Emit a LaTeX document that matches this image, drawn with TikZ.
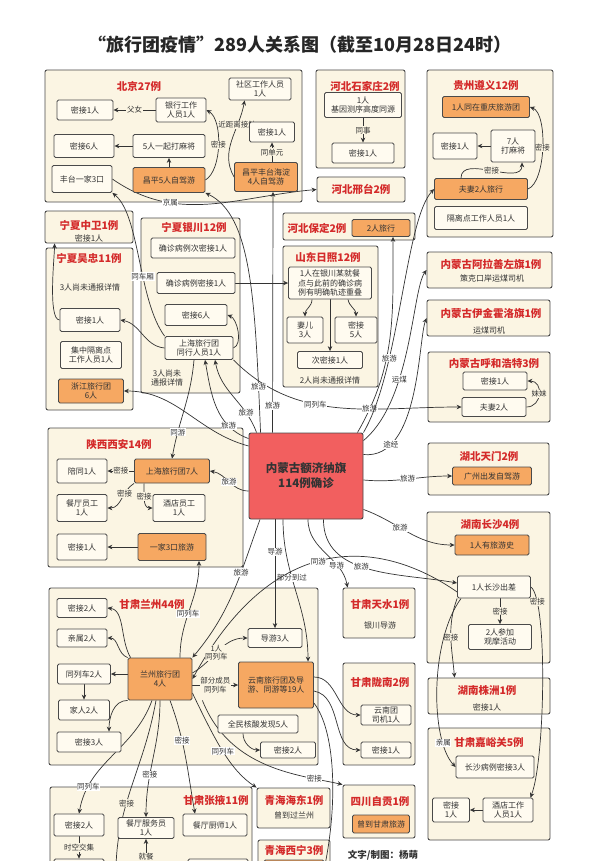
\documentclass[tikz,border=0pt]{standalone}
\usepackage{fontspec}
\setmainfont{Noto Sans CJK SC}
\usepackage{tikz}
\usetikzlibrary{arrows.meta}
\pgfdeclarelayer{back}
\pgfdeclarelayer{mid}
\pgfsetlayers{back,mid,main}
\definecolor{cream}{HTML}{FBF5E3}
\definecolor{boxfill}{HTML}{FFFBF0}
\definecolor{lineg}{HTML}{4A4A4A}
\definecolor{orng}{HTML}{F6A862}
\definecolor{hot}{HTML}{F25F5F}
\definecolor{ttlred}{HTML}{D42A2A}
\definecolor{ink}{HTML}{333333}

\begin{document}
\begin{tikzpicture}[x=1pt, y=-1pt,
    >={Stealth[length=5pt,width=4.5pt]},
    sz/.style 2 args={minimum width=#1pt, minimum height=#2pt},
    panel/.style={draw=lineg, fill=cream, line width=0.9pt, rounded corners=2pt},
    box/.style={draw=lineg, fill=boxfill, line width=0.8pt, rounded corners=1.5pt,
                align=center, inner sep=1pt, text=ink,
                font=\fontsize{8}{9.6}\selectfont},
    obox/.style={box, fill=orng},
    ttl/.style={font=\fontsize{10.5}{12}\selectfont\bfseries, text=ttlred},
    txt/.style={font=\fontsize{8}{9.6}\selectfont, text=ink, align=center},
    lbl/.style={font=\fontsize{7.5}{8.5}\selectfont, text=ink, fill=white,
                inner sep=0.6pt, align=center},
    lblc/.style={lbl, fill=cream},
    link/.style={->, draw=ink, line width=0.7pt}
]
\useasboundingbox (0,0) rectangle (600,861);
\clip (0,0) rectangle (600,861);

\begin{pgfonlayer}{back}
\clip (0,0) rectangle (600,861);
\fill[white] (0,0) rectangle (600,861);
\node[panel, sz={257}{132}] (bjp) at (173.5,136) {};
\node[panel, sz={89}{98}] (sjzp) at (360.5,119) {};
\node[panel, sz={88}{25}, ttl] (xt) at (361,189.5) {河北邢台2例};
\node[panel, sz={126}{167}] (zyp) at (490,153.5) {};
\node[panel, sz={88}{32}] (zwp) at (89,227) {};
\node[panel, sz={87}{162}] (wzp) at (89.5,329) {};
\node[panel, sz={99}{175}] (ycp) at (190.5,305.5) {};
\node[panel, sz={132}{27}] (bdp) at (349,226.5) {};
\node[panel, sz={95}{141}] (rzp) at (330.5,316.5) {};
\node[panel, sz={125}{36}] (alsp) at (489.5,270) {};
\node[panel, sz={123}{36}] (yjp) at (488.5,318) {};
\node[panel, sz={122}{70}] (hhp) at (489,387) {};
\node[panel, sz={121}{52}] (tmp) at (488.5,469) {};
\node[panel, sz={123}{151}] (csp) at (488.5,587.5) {};
\node[panel, sz={122}{36}] (zzp) at (489,696) {};
\node[panel, sz={122}{112}] (jygp) at (489,784) {};
\node[panel, sz={195}{139}] (xap) at (145.5,497.5) {};
\node[panel, sz={269}{177}] (lzp) at (183.5,676.5) {};
\node[panel, sz={72}{50}] (tsp) at (379,613) {};
\node[panel, sz={72}{102}] (lnp) at (379,714) {};
\node[panel, sz={72}{53}] (zgp) at (379,811.5) {};
\node[panel, sz={73}{40}] (hdp) at (293.5,808) {};
\node[panel, sz={72}{60}] (xnp) at (294,870) {};
\node[panel, sz={202}{113}] (zyep) at (151,843.5) {};
\end{pgfonlayer}

\node[font=\fontsize{18}{20}\selectfont\bfseries, text=black!85] (head) at (300,45)
    {“旅行团疫情”289人关系图（截至10月28日24时）};

\node[ttl] (bjt) at (139,86) {北京27例};
\node[box, sz={56}{20}] (bj1) at (85,110) {密接1人};
\node[box, sz={50}{24}] (bj2) at (181,110) {银行工作\\人员1人};
\node[box, sz={60}{23}] (bj3) at (84,146) {密接6人};
\node[box, sz={72}{23}] (bj4) at (169,146) {5人一起打麻将};
\node[box, sz={60}{27}] (bj5) at (82,179) {丰台一家3口};
\node[obox, sz={72}{25}] (bj6) at (169,180) {昌平5人自驾游};
\node[box, sz={62}{22}] (bj7) at (260,89) {社区工作人员\\1人};
\node[box, sz={45}{20}] (bj8) at (272,132) {密接1人};
\node[obox, sz={63}{29}] (bj9) at (266,177) {昌平丰台海淀\\4人自驾游};

\node[ttl] (sjt) at (365,86) {河北石家庄2例};
\node[box, sz={77}{25}] (sj1) at (363,105) {1人\\基因测序高度同源};
\node[box, sz={62}{20}] (sj2) at (363,153) {密接1人};

\node[ttl] (zyt) at (486,86) {贵州遵义12例};
\node[obox, sz={87}{21}] (zy1) at (486,107) {1人同在重庆旅游团};
\node[box, sz={44}{26}] (zy2) at (455,146) {密接1人};
\node[box, sz={44}{32}] (zy3) at (513,146) {7人\\打麻将};
\node[obox, sz={93}{21}] (zy4) at (481,189) {夫妻2人旅行};
\node[box, sz={93}{23}] (zy5) at (481,218) {隔离点工作人员1人};

\node[ttl] (zwt) at (89,225) {宁夏中卫1例};
\node[txt] (zwx) at (89,238) {密接1人};
\node[ttl] (wzt) at (89,258) {宁夏吴忠11例};
\node[txt] (wzx) at (90,287) {3人尚未通报详情};
\node[box, sz={60}{23}] (wz1) at (90,320) {密接1人};
\node[box, sz={61}{27}] (wz2) at (91,355) {集中隔离点\\工作人员1人};
\node[obox, sz={65}{24}] (wz3) at (91,391) {浙江旅行团\\6人};

\node[ttl] (yct) at (194,228) {宁夏银川12例};
\node[box, sz={84}{20}] (yc1) at (193,248) {确诊病例次密接1人};
\node[box, sz={78}{21}] (yc2) at (196,283) {确诊病例密接1人};
\node[box, sz={62}{21}] (yc3) at (196,315) {密接6人};
\node[box, sz={68}{23}] (yc4) at (199,348) {上海旅行团\\同行人员1人};
\node[txt] (ycx) at (167,378) {3人尚未\\通报详情};

\node[ttl] (bdt) at (317,228) {河北保定2例};
\node[obox, sz={58}{17}] (bd1) at (381,228) {2人旅行};

\node[ttl] (rzt) at (328,257) {山东日照12例};
\node[box, sz={83}{32}] (rz1) at (330,283) {1人在银川某就餐\\点与此前的确诊病\\例有明确轨迹重叠};
\node[box, sz={36}{26}] (rz2) at (305,330) {妻儿\\3人};
\node[box, sz={42}{26}] (rz3) at (356,330) {密接\\5人};
\node[box, sz={65}{17}] (rz4) at (330,360) {次密接1人};
\node[txt] (rzx) at (330,380) {2人尚未通报详情};

\node[ttl] (alst) at (491,264) {内蒙古阿拉善左旗1例};
\node[txt] (alsx) at (492,278) {策克口岸运煤司机};
\node[ttl] (yjt) at (491,313) {内蒙古伊金霍洛旗1例};
\node[txt] (yjx) at (489,330) {运煤司机};
\node[ttl] (hht) at (494,364) {内蒙古呼和浩特3例};
\node[box, sz={64}{18}] (hh1) at (495,381) {密接1人};
\node[box, sz={64}{19}] (hh2) at (494,407) {夫妻2人};

\node[ttl] (tmt) at (489,456) {湖北天门2例};
\node[obox, sz={79}{18}] (tm1) at (492,476) {广州出发自驾游};

\node[ttl] (cst) at (490,525) {湖南长沙4例};
\node[obox, sz={74}{20}] (cs1) at (492,545) {1人有旅游史};
\node[box, sz={73}{22}] (cs2) at (494,587) {1人长沙出差};
\node[box, sz={63}{25}] (cs3) at (500,637) {2人参加\\观摩活动};

\node[ttl] (zzt) at (487,691) {湖南株洲1例};
\node[txt] (zzx) at (487,707) {密接1人};

\node[ttl] (jyt) at (489,743) {甘肃嘉峪关5例};
\node[box, sz={78}{22}] (jy1) at (495,767) {长沙病例密接3人};
\node[box, sz={37}{24}] (jy2) at (451,810) {密接\\1人};
\node[box, sz={50}{24}] (jy3) at (508,810) {酒店工作\\人员1人};

\node[draw=lineg, fill=hot, line width=0.9pt, rounded corners=2pt, sz={114}{86},
      align=center, text=ink, font=\fontsize{11.5}{15}\selectfont\bfseries]
      (ctr) at (306,476) {内蒙古额济纳旗\\114例确诊};

\node[ttl] (xat) at (119,445) {陕西西安14例};
\node[box, sz={50}{24}] (xa1) at (82,471) {陪同1人};
\node[obox, sz={75}{24}] (xa2) at (172,471) {上海旅行团7人};
\node[box, sz={50}{27}] (xa3) at (82,508) {餐厅员工\\1人};
\node[box, sz={52}{27}] (xa4) at (179,508) {酒店员工\\1人};
\node[box, sz={50}{26}] (xa5) at (82,547) {密接1人};
\node[obox, sz={68}{27}] (xa6) at (172,547) {一家3口旅游};

\node[ttl] (lzt) at (152,605) {甘肃兰州44例};
\node[box, sz={50}{19}] (lz1) at (82,608) {密接2人};
\node[box, sz={50}{18}] (lz2) at (82,638) {亲属2人};
\node[box, sz={53}{20}] (lz3) at (84,674) {同列车2人};
\node[box, sz={51}{20}] (lz4) at (84,710) {家人2人};
\node[box, sz={64}{20}] (lz5) at (89,742) {密接3人};
\node[obox, sz={64}{42}] (lz6) at (160,679) {兰州旅行团\\4人};
\node[box, sz={54}{19}] (lz7) at (275,638) {导游3人};
\node[obox, sz={75}{46}] (lz8) at (276,685) {云南旅行团及导\\游、同游等19人};
\node[box, sz={80}{18}] (lz9) at (258,724) {全民核酸发现5人};
\node[box, sz={55}{16}] (lz10) at (288,750) {密接2人};

\node[ttl] (tst) at (380,605) {甘肃天水1例};
\node[txt] (tsx) at (380,625) {银川导游};
\node[ttl] (lnt) at (380,682) {甘肃陇南2例};
\node[box, sz={50}{20}] (ln1) at (386,715) {云南团\\司机1人};
\node[box, sz={50}{16}] (ln2) at (386,750) {密接1人};
\node[ttl] (zgt) at (380,802) {四川自贡1例};
\node[obox, sz={57}{18}] (zg1) at (381,824) {曾到甘肃旅游};
\node[ttl] (hdt) at (294,800) {青海海东1例};
\node[txt] (hdx) at (294,815) {曾到过兰州};
\node[ttl] (xnt) at (294,850) {青海西宁3例};
\node[obox, sz={60}{16}] (xn1) at (294,868) {};

\node[ttl] (zyet) at (216,800) {甘肃张掖11例};
\node[box, sz={50}{22}] (zye1) at (79,825) {密接2人};
\node[box, sz={56}{21}] (zye2) at (146,828) {餐厅服务员\\1人};
\node[box, sz={64}{22}] (zye3) at (215,825) {餐厅厨师1人};
\node[box, sz={50}{22}] (zye4) at (79,870) {};
\node[box, sz={60}{22}] (zye5) at (218,870) {};
\coordinate (zyeb) at (116,875);
\coordinate (zyec) at (146,875);

\node[font=\fontsize{9.5}{11}\selectfont\bfseries, text=ink] (credit) at (383,855) {文字/制图：杨萌};

\begin{pgfonlayer}{mid}
\clip (0,0) rectangle (600,861);
\draw[link] (bj2) -- node[lblc]{父女} (bj1);
\draw[link] (bj4) -- (bj3);
\draw[link] (bj6) -- (bj4);
\draw[link] ([xshift=6pt]bj9.north) -- node[lblc]{同单元} (bj8.south);
\draw[link] (bj9.west) to[out=120,in=-100] node[lblc,pos=0.7]{近距离接触} ([xshift=16pt]bj7.south west);
\draw[link] (bj6.east) to[out=30,in=-30,looseness=0.7] node[lblc]{密接} (bj2.east);
\draw[link] (bj5.east) to[out=-35,in=185] node[lbl,pos=0.3]{京属} (xt.west);
\draw[link] (sj1) -- node[lblc]{同事} (sj2);
\draw[link] (zy3) -- (zy2);
\draw[link] (zy4.east) to[out=20,in=-20,looseness=0.6] node[lblc]{密接} (zy1.east);
\draw[link] ([xshift=-20pt]zy4.north) to[out=90,in=-90] node[lblc]{密接} ([xshift=9pt]zy3.south);
\draw[link] (wz1.west) to[out=180,in=-90,looseness=0.4] ([xshift=10pt]zwp.south west);
\draw[link] (yc4.west) to[out=175,in=-10] (wz1.east);
\draw[link] (yc4.east) to[out=20,in=-20,looseness=0.8] (yc3.east);
\draw[link] (yc2) -- (rz1);
\draw[link] (yc4.north west) .. controls (138,300) and (140,215) .. node[lbl,pos=0.4]{同车厢} (bj5.south east);
\draw[link] ([xshift=-5pt]yc4.south) to[out=-95,in=80] node[lbl,pos=0.75]{同游} (xa2.north);
\draw[link] (yc4.south east) to[out=-45,in=180] node[lbl,pos=0.4]{同列车} (hh2.west);
\draw[link] ([xshift=-18pt]rz1.south) to[out=-90,in=90] (rz2.north);
\draw[link] ([xshift=18pt]rz1.south) to[out=-80,in=90] (rz3.north);
\draw[link] (rz1) -- (rz4);
\draw[link] (hh2.east) to[out=0,in=0,looseness=1.6] node[lblc]{妹妹} (hh1.east);
\draw[link] ([xshift=6pt]cs2.south) -- node[lblc]{密接} (cs3.north);
\draw[link] (cs2.south west) to[out=-110,in=95] node[lblc,pos=0.5]{密接} ([xshift=27pt]zzp.north west);
\draw[link] (cs2.east) .. controls (548,600) and (545,760) .. node[lblc,pos=0.15]{密接} ([xshift=-3pt]jy3.north east);
\draw[link] ([xshift=4pt]cs2.south west) .. controls (430,640) and (430,740) .. node[lbl,pos=0.8]{亲属} (jy1.west);
\draw[link] (jy3) -- (jy2);
\draw[link] (xa2.west) -- node[lblc]{密接} (xa1.east);
\draw[link] (xa2.south west) to[out=-150,in=0] node[lblc,pos=0.35]{密接} (xa3.east);
\draw[link] ([xshift=10pt]xa2.south west) to[out=-90,in=180] node[lblc,pos=0.4]{密接} (xa4.west);
\draw[link] (xa6) -- (xa5);
\draw[link] ([yshift=-15pt]ctr.west) to[out=180,in=-10] node[lbl]{旅游} (xa2.east);
\draw[link] ([yshift=30pt]ctr.west) to[out=165,in=0] (wz3.east);
\draw[link] ([yshift=-6pt]ctr.north west) to[out=160,in=-80] node[lbl,pos=0.25]{旅游} ([xshift=6pt]yc4.south);
\draw[link] ([xshift=8pt]ctr.north west) to[out=110,in=-80] node[lbl,pos=0.25]{旅游} ([xshift=16pt]yc4.south);
\draw[link] ([xshift=12pt]ctr.north west) .. controls (255,300) and (252,215) .. node[lbl,pos=0.12]{旅游} (bj6.south east);
\draw[link] ([xshift=24pt]ctr.north west) -- node[lbl,pos=0.11]{旅游} ([xshift=7pt]bj9.south);
\draw[link] ([xshift=-6pt]ctr.north east) to[out=60,in=-90] node[lbl,pos=0.12]{旅游} ([xshift=12pt]bd1.south);
\draw[link] (ctr.north east) .. controls (400,370) and (405,220) .. node[lbl,pos=0.3]{旅游} (zy4.west);
\draw[link] ([yshift=-8pt]ctr.north east) .. controls (412,400) and (412,290) .. node[lbl,pos=0.35]{运煤} (alsp.west);
\draw[link] ([yshift=-22pt]ctr.north east) .. controls (420,460) and (418,340) .. node[lbl,pos=0.2]{途经} (yjp.west);
\draw[link] ([yshift=-4pt]ctr.east) to[out=-5,in=180] node[lbl]{旅游} (tm1.west);
\draw[link] ([yshift=10pt]ctr.south east) to[out=-20,in=180] node[lbl,pos=0.4]{旅游} (cs1.west);
\draw[link] ([xshift=-40pt]ctr.south east) to[out=-90,in=170] node[lbl,pos=0.45]{旅游} ([yshift=4pt]cs2.west);
\draw[link] ([xshift=2pt]ctr.south) to[out=-90,in=100] node[lbl,pos=0.7]{导游} ([xshift=5pt]tsp.north west);
\draw[link] ([xshift=-23pt]ctr.south) to[out=-90,in=90] node[lbl,pos=0.4]{部分到过} ([xshift=32pt]lz8.north);
\draw[link] ([xshift=-31pt]ctr.south) -- node[lbl,pos=0.3]{导游} (lz7.north);
\draw[link] ([xshift=-46pt]ctr.south) to[out=-110,in=50] node[lbl,pos=0.35]{旅游} (lz6.north east);
\draw[link] ([yshift=-5pt]cs2.west) .. controls (390,545) and (280,520) .. node[lbl,pos=0.55]{同游} (lz6.east);
\draw[link] ([xshift=3pt]lz6.north west) .. controls (120,640) and (125,610) .. (lz1.east);
\draw[link] (lz6.north west) to[out=160,in=0] (lz2.east);
\draw[link] ([yshift=5pt]lz6.west) -- (lz3.east);
\draw[link] (lz3) -- (lz4);
\draw[link] (lz6.south west) to[out=180,in=90] ([xshift=20pt]lz5.north);
\draw[link] ([yshift=6pt]lz6.east) to[out=30,in=180] node[lblc,pos=0.45]{1人\\同列车} (lz7.west);
\draw[link] ([yshift=-6pt]lz6.east) -- node[lblc]{部分成员\\同列车} (lz8.west);
\draw[link] ([xshift=-15pt]lz9.south) to[out=-90,in=180] (lz10.west);
\draw[link] ([yshift=8pt]lz8.east) to[out=0,in=180] (ln1.west);
\draw[link] ([yshift=-6pt]lz8.east) to[out=-10,in=180] (ln2.west);
\draw[link] ([yshift=-18pt]lz8.east) .. controls (335,730) and (338,800) .. (xn1.east);
\draw[link] ([xshift=20pt]lz6.north) to[out=90,in=-90] node[lbl,pos=0.45]{同列车} ([xshift=27pt]xa6.south);
\draw[link] ([xshift=-8pt]lz6.south) to[out=-110,in=80] node[lbl,pos=0.8]{同列车} (zye1.north);
\draw[link] (lz6.south) to[out=-90,in=90] node[lbl,pos=0.65]{密接} (zye2.north);
\draw[link] ([xshift=10pt]lz6.south) to[out=-70,in=100] node[lbl,pos=0.35]{密接} ([xshift=-20pt]zye3.north);
\draw[link] ([xshift=-4pt]lz6.south) to[out=-100,in=90] node[lblc,pos=0.6]{密接} (zyeb);
\draw[link] (zye1) -- node[lblc]{时空交集} (zye4);
\draw[link] (zyec) -- node[lblc]{就餐} (zye2.south);
\draw[link] ([xshift=10pt]lz6.south east) .. controls (230,770) and (300,775) .. node[lbl,pos=0.8]{密接} (zgp.north west);
\draw[link] ([yshift=-14pt]lz6.east) .. controls (215,740) and (230,770) .. node[lbl,pos=0.5]{同列车} (hdp.north west);
\end{pgfonlayer}
\end{tikzpicture}
\end{document}
